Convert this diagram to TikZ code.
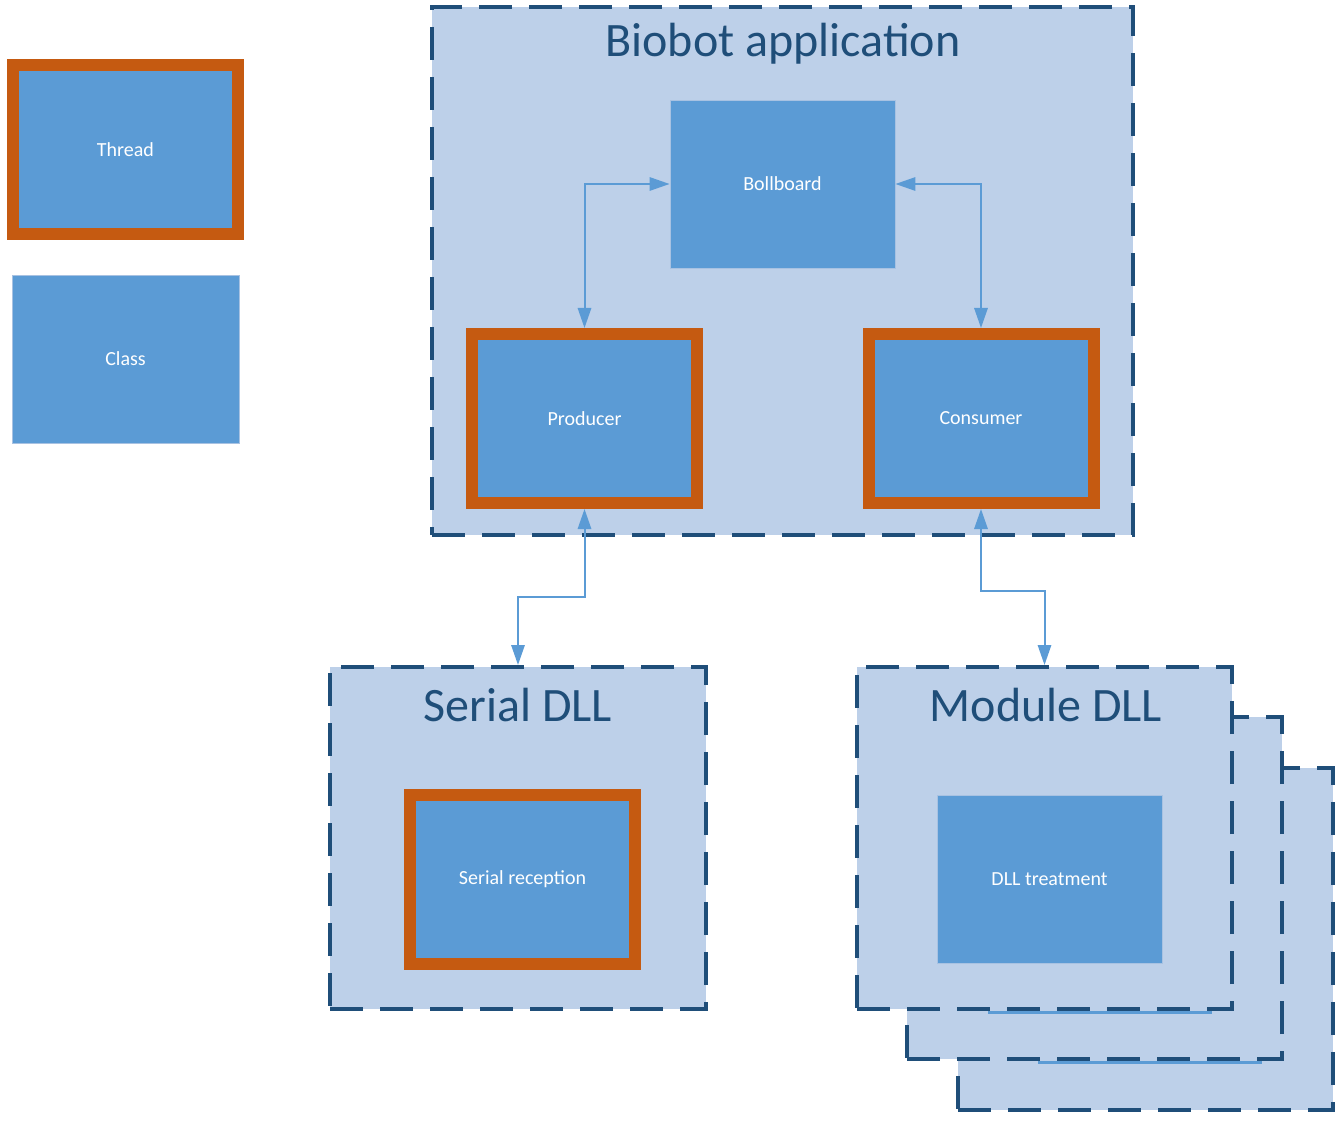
\documentclass[tikz,border=0pt]{standalone}
\usepackage{fontspec}
\setmainfont{Carlito}
\usetikzlibrary{arrows.meta}
\definecolor{boxblue}{HTML}{5B9BD5}
\definecolor{contfill}{HTML}{BDD0E9}
\definecolor{darkblue}{HTML}{1F4E79}
\definecolor{thrdorange}{HTML}{C55A11}
\definecolor{classedge}{HTML}{A8C2E2}
\begin{document}
\begin{tikzpicture}[x=0.75pt,y=-0.75pt,
  container/.style={draw=darkblue, line width=3pt, dash pattern=on 24.75pt off 12.75pt,
    fill=contfill, inner sep=0pt, rectangle},
  classbox/.style={fill=boxblue, draw=classedge, line width=0.6pt, inner sep=0pt,
    minimum width=168.75pt, minimum height=126pt, text=white, font=\fontsize{15}{18}\selectfont},
  threadbox/.style={fill=boxblue, draw=thrdorange, line width=9pt, inner sep=0pt,
    minimum width=168.75pt, minimum height=126.75pt, text=white, font=\fontsize{15}{18}\selectfont},
  title/.style={text=darkblue, font=\fontsize{36}{40}\selectfont, anchor=base, inner sep=0pt},
  conn/.style={draw=boxblue, line width=1.5pt, {Triangle[length=15pt,width=10pt]}-{Triangle[length=15pt,width=10pt]}},
  stackline/.style={draw=boxblue, line width=2.25pt}
]
\useasboundingbox (0,0) rectangle (1343,1123);

% legend
\node[threadbox] (thread) at (125.5,149.5) {Thread};
\node[classbox, minimum width=170.25pt] (class) at (125.5,359) {Class};

% Biobot application
\node[container, minimum width=525.75pt, minimum height=396pt] (biobot) at (782.5,271) {};
\node[title] (biobottitle) at (783,57) {Biobot application};
\node[classbox] (boll) at (782.5,184) {Bollboard};
\node[threadbox] (producer) at (584.5,418.5) {Producer};
\node[threadbox] (consumer) at (981,418.5) {Consumer};

% Serial DLL
\node[container, minimum width=282pt, minimum height=256.5pt] (serial) at (518,838) {};
\node[title] (serialtitle) at (518,721) {Serial DLL};
\node[threadbox] (serialrx) at (522.5,879) {Serial reception};

% Module DLL stack
\node[container, minimum width=281.25pt, minimum height=256.5pt] (moduleback) at (1145.5,939) {};
\node[container, minimum width=281.25pt, minimum height=256.5pt] (modulemid) at (1094.5,888) {};
\node[container, minimum width=281.25pt, minimum height=256.5pt] (module) at (1044.5,838) {};
\node[title] (moduletitle) at (1046,721) {Module DLL};
\node[classbox] (dlltreat) at (1049.5,879) {DLL treatment};
\coordinate (s1a) at (988,1012);
\coordinate (s1b) at (1212,1012);
\coordinate (s2a) at (1038,1062);
\coordinate (s2b) at (1262,1062);
\draw[stackline] (s1a) -- (s1b);
\draw[stackline] (s2a) -- (s2b);

% connectors
\draw[conn] (boll.west) -| (producer.north);
\draw[conn] (boll.east) -| (consumer.north);
\draw[conn] (producer.south) -- ++(0,88) -| (serial.north);
\draw[conn] (consumer.south) -- ++(0,82) -| (module.north);
\end{tikzpicture}
\end{document}
